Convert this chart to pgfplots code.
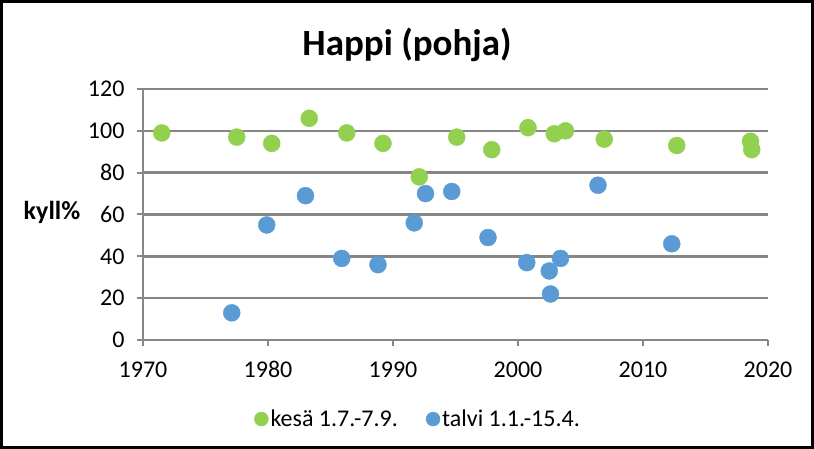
\documentclass[border=0pt]{standalone}
\usepackage{pgfplots}
\pgfplotsset{compat=1.18}
\usepackage{fontspec}
\setmainfont{Carlito}
\definecolor{kgreen}{HTML}{92D050}
\definecolor{tblue}{HTML}{5B9BD5}
\definecolor{gridc}{HTML}{868686}
\begin{document}
\begin{tikzpicture}
\draw[black, line width=3bp] (-141.5bp,-107.5bp) rectangle (669.5bp,338.5bp);
\begin{axis}[
  at={(0,0)}, anchor=south west,
  scale only axis, width=625bp, height=251bp,
  xmin=1970, xmax=2020, ymin=0, ymax=120,
  xtick={1970,1980,...,2020}, ytick={0,20,...,120},
  axis x line*=bottom, axis y line*=left,
  ymajorgrids,
  major grid style={gridc, line width=2.5bp},
  axis line style={-, gridc, line width=2.5bp},
  major tick style={gridc, line width=2bp},
  major tick length=6bp,
  tick align=outside,
  /pgf/number format/1000 sep={},
  /pgf/number format/assume math mode=true,
  ticklabel style={font=\fontsize{24bp}{28bp}\selectfont, text=black},
  yticklabel style={xshift=-9bp},
  xticklabel style={yshift=-12bp},
  legend style={at={(0.44,-0.315)}, anchor=center, draw=none, fill=none,
    font=\fontsize{24bp}{28bp}\selectfont, legend columns=2,
    /tikz/every even column/.append style={column sep=26bp}},
  legend cell align=left,
  legend image code/.code={\fill[#1] (0bp,0bp) circle (7bp);},
  clip=false,
]
\addplot[only marks, mark=*, color=kgreen, mark size=8.5bp, mark options={fill=kgreen, draw=kgreen}] coordinates {
(1971.5,99) (1977.5,97) (1980.3,94) (1983.3,106) (1986.3,99) (1989.2,94)
(1992.1,78) (1995.1,97) (1997.9,91) (2000.8,101.5) (2002.9,98.6) (2003.8,100)
(2006.9,96) (2012.7,93) (2018.6,95) (2018.7,91)
};
\addlegendentry{kesä 1.7.-7.9.}
\addplot[only marks, mark=*, color=tblue, mark size=8.5bp, mark options={fill=tblue, draw=tblue}] coordinates {
(1977.1,13) (1979.9,55) (1983.0,69) (1985.9,39) (1988.8,36) (1991.7,56)
(1992.6,70) (1994.7,71) (1997.6,49) (2000.7,37) (2002.5,33) (2002.6,22)
(2003.4,39) (2006.4,74) (2012.3,46)
};
\addlegendentry{talvi 1.1.-15.4.}
\end{axis}
\node[font=\bfseries\fontsize{37bp}{44bp}\selectfont, anchor=base] at (264bp,284bp) {Happi (pohja)};
\node[font=\bfseries\fontsize{26bp}{30bp}\selectfont] at (-91bp,128bp) {kyll\%};
\end{tikzpicture}
\end{document}
